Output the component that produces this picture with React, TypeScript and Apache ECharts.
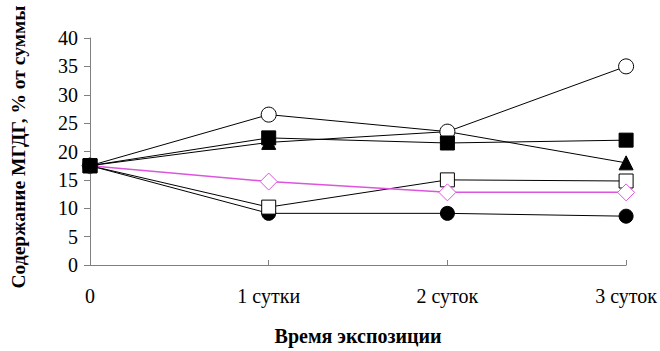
import React, { useEffect, useRef } from "react";
import * as echarts from "echarts";

const categories = ["0", "1 сутки", "2 суток", "3 суток"];
const openCircle = [17.5, 26.5, 23.5, 35];
const triangle = [17.5, 21.6, 23.5, 18];
const openSquare = [17.5, 10.2, 15, 14.8];
const diamond = [17.5, 14.7, 12.8, 12.8];
const filledCircle = [17.5, 9.1, 9.1, 8.6];
const filledSquare = [17.5, 22.4, 21.5, 22];
const yTitle = "Содержание МГДГ, % от суммы";
const xTitle = "Время экспозиции";

const FONT = "'Liberation Serif', 'Times New Roman', serif";

export default function App() {
  const ref = useRef<HTMLDivElement>(null);
  useEffect(() => {
    if (!ref.current) return;
    const chart = echarts.init(ref.current, null, { renderer: "svg" });
    const mk = (data: number[], symbol: string, size: number, color: string, fill: string, z: number, w = 1) => ({
      type: "line",
      data,
      symbol,
      symbolSize: size,
      z,
      lineStyle: { color, width: w },
      itemStyle: { color: fill, borderColor: color, borderWidth: 1 },
    });
    chart.setOption({
      animation: false,
      backgroundColor: "#ffffff",
      grid: { left: 90, right: 33, top: 38, bottom: 85 },
      graphic: [
        {
          type: "text",
          x: 18,
          y: 147,
          rotation: Math.PI / 2,
          style: {
            text: yTitle,
            fontFamily: FONT,
            fontSize: 19.5,
            fontWeight: "bold",
            fill: "#000",
            align: "center",
            verticalAlign: "middle",
          },
        },
      ],
      xAxis: {
        type: "category",
        data: categories,
        boundaryGap: false,
        name: xTitle,
        nameLocation: "middle",
        nameGap: 61,
        nameTextStyle: { fontFamily: FONT, fontSize: 20, fontWeight: "bold", color: "#000" },
        axisLine: { lineStyle: { color: "#808080", width: 1 } },
        axisTick: { show: true, alignWithLabel: true, length: 5, inside: true, lineStyle: { color: "#808080" } },
        axisLabel: { fontFamily: FONT, fontSize: 20, color: "#000", margin: 21 },
        splitLine: { show: false },
      },
      yAxis: {
        type: "value",
        min: 0,
        max: 40,
        interval: 5,
        axisLine: { show: true, lineStyle: { color: "#808080", width: 1 } },
        axisTick: { show: true, length: 6, lineStyle: { color: "#808080" } },
        axisLabel: { fontFamily: FONT, fontSize: 20, color: "#000", margin: 12 },
        splitLine: { show: false },
      },
      series: [
        mk(filledCircle, "circle", 14, "#000", "#000", 2),
        mk(openSquare, "rect", 14, "#000", "#fff", 3),
        mk(diamond, "diamond", 17, "#dd55dd", "#fff", 4, 1.5),
        mk(triangle, "triangle", 14, "#000", "#000", 5),
        mk(openCircle, "circle", 15, "#000", "#fff", 6),
        mk(filledSquare, "rect", 14, "#000", "#000", 7),
      ],
    });
    return () => chart.dispose();
  }, []);
  return <div ref={ref} style={{ width: 660, height: 351, position: "absolute", left: 0, top: 0 }} />;
}
